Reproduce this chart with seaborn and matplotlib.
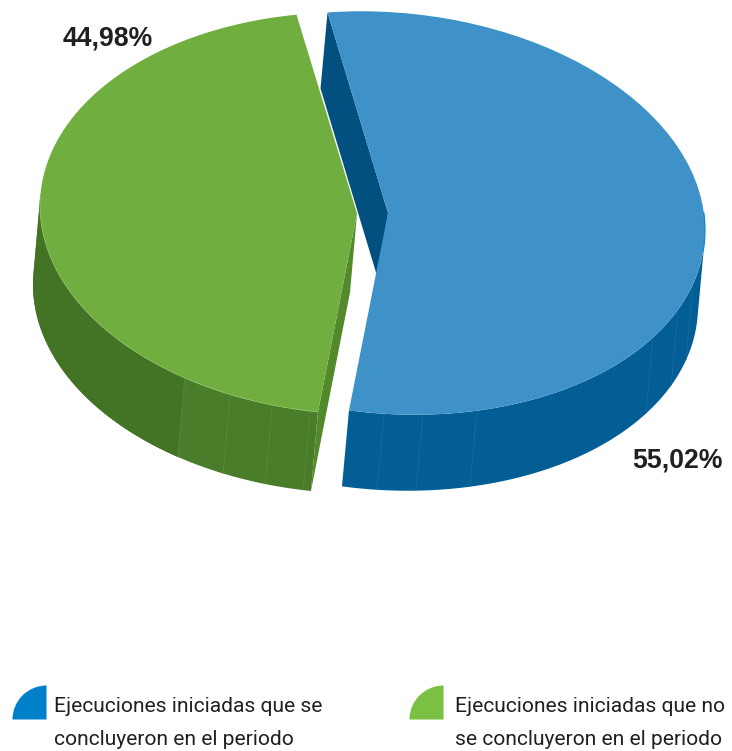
import numpy as np
import matplotlib
matplotlib.use("Agg")
import matplotlib.pyplot as plt
from matplotlib.transforms import Affine2D
from matplotlib.patches import Wedge
import seaborn as sns

sns.set_theme(style="white")

categories = ["Ejecuciones iniciadas que se\nconcluyeron en el periodo",
              "Ejecuciones iniciadas que no\nse concluyeron en el periodo"]
values = [55.02, 44.98]
top_colors = ["#3F92C8", "#70AF3F"]
wall_colors = ["#025E94", "#4A7D29"]
inner_colors = ["#01507F", "#528A2B"]
legend_colors = ["#0080C8", "#7AC143"]
blue_facets = [-90.7, -83.7, -73.7, -33.3, -23.8, -15.8]
green_facets = [237.1, 246.4, 254.5, 261.5]

fig = plt.figure(figsize=(7.32, 7.51), dpi=100, facecolor="white")
ax = fig.add_axes([0, 0, 1, 1])

START = 101.0
A, B = 317.0, 201.0
SHEAR = [17.0, 8.0]
CENTERS = [(388.0, 213.0), (357.0, 213.5)]
DX = -7.0
DEPTH = [76.0, 79.0]


def rim(t, i):
    r = np.radians(t)
    c = CENTERS[i]
    return (c[0] + A * np.cos(r), c[1] + SHEAR[i] * np.cos(r) - B * np.sin(r))


wedges, _ = ax.pie(values, colors=top_colors, startangle=START, counterclock=False,
                   wedgeprops=dict(linewidth=0))
for i, w in enumerate(wedges):
    c = CENTERS[i]
    w.set_transform(Affine2D.from_values(A, SHEAR[i], 0, -B, c[0], c[1]) + ax.transData)
    w.set_zorder(5)
    w.set_clip_on(False)

span = [v / sum(values) * 360 for v in values]
cut_low = START - span[0]          # radius where the blue slice ends and the green one begins
cut_low_g = cut_low + 360


def radial_wall(t, i, col):
    c = CENTERS[i]
    p = rim(t, i)
    d = DEPTH[i]
    ax.fill([c[0], p[0], p[0] + DX, c[0] + DX], [c[1], p[1], p[1] + d, c[1] + d],
            color=col, lw=0, zorder=1)


def wall(t0, t1, i, col):
    t = np.linspace(t0, t1, 200)
    x, y = rim(t, i)
    ax.fill(np.r_[x, x[::-1] + DX], np.r_[y, y[::-1] + DEPTH[i]], color=col, lw=0, zorder=2)


radial_wall(START, 0, inner_colors[0])
radial_wall(cut_low, 1, inner_colors[1])
wall(cut_low, -3.2, 0, wall_colors[0])
wall(176.8, cut_low_g, 1, wall_colors[1])
wall(176.8, green_facets[0], 1, "#437325")

for t in blue_facets:
    x, y = rim(t, 0)
    ax.plot([x, x + DX], [y, y + DEPTH[0]], color="#1F6F9F", lw=0.5, zorder=3)
for t in green_facets:
    x, y = rim(t, 1)
    ax.plot([x, x + DX], [y, y + DEPTH[1]], color="#5A8C3A", lw=0.5, zorder=3)

# light rims along the front of the top faces
t = np.linspace(176.8, cut_low_g, 200)
ax.plot(*rim(t, 1), color="#8ABF62", lw=0.6, zorder=6)
t = np.linspace(-6, 5, 40)
ax.plot(*rim(t, 0), color="#0A84C6", lw=0.8, zorder=6)

# value labels
lab = [f"{v:.2f}%".replace(".", ",") for v in values]
ax.text(677, 461, lab[0], ha="center", va="center", fontsize=19.2, fontweight="bold",
        family="Liberation Sans", color="#231F20", zorder=7)
ax.text(108, 38, lab[1], ha="center", va="center", fontsize=19.2, fontweight="bold",
        family="Liberation Sans", color="#231F20", zorder=7)

# legend
for name, col, sx, tx in zip(categories, legend_colors, [46.5, 443.5], [54, 455]):
    ax.add_patch(Wedge((0, 0), 1, 90, 180, color=col, lw=0, zorder=6,
                       transform=Affine2D().scale(34, -34).translate(sx, 719.5) + ax.transData))
    l1, l2 = name.split("\n")
    ax.text(tx, 712, l1, ha="left", va="baseline", fontsize=15.1, family="Roboto", color="#231F20")
    ax.text(tx, 745, l2, ha="left", va="baseline", fontsize=15.1, family="Roboto", color="#231F20")

ax.set_aspect("auto")
ax.set_xlim(0, 732)
ax.set_ylim(751, 0)
ax.axis("off")
fig.savefig("out.png", dpi=100, facecolor="white")
